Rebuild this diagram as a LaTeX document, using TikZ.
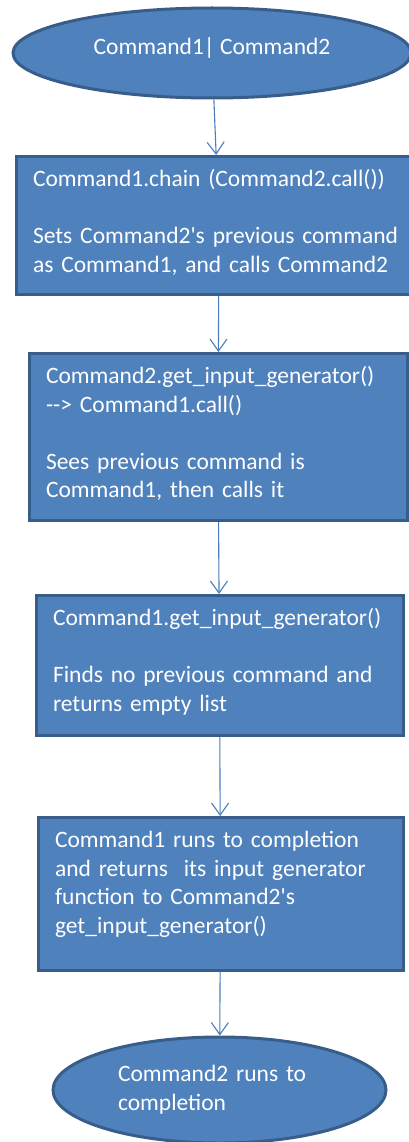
\documentclass[tikz,border=0pt]{standalone}
\usepackage{fontspec}
\setmainfont{Carlito}
\usetikzlibrary{shapes.geometric,arrows.meta}
\definecolor{boxfill}{HTML}{4F81BD}
\definecolor{boxline}{HTML}{385D8A}
\definecolor{flowline}{HTML}{4A7EBB}

\begin{document}
\begin{tikzpicture}[x=1pt,y=-1pt,>={Straight Barb[length=12pt,width=17pt]},
  every node/.style={text=white,font=\fontsize{23.5}{28.6}\selectfont},
  terminal/.style={ellipse,draw=boxline,fill=boxfill,line width=3pt,inner sep=0pt},
  stepbox/.style={rectangle,draw=boxline,fill=boxfill,line width=3pt,anchor=north,
    inner xsep=17pt,inner ysep=0pt,align=left,text height=30pt},
  flow/.style={->,flowline,line width=1.1pt}]
  \useasboundingbox (0,0) rectangle (409,1142);
  % Start and end
  \node[terminal,minimum width=398pt,minimum height=90pt,text height=16pt,text depth=12pt]
    (start) at (212,53) {Command1| Command2};
  \node[terminal,minimum width=333pt,minimum height=106pt,text width=203pt,align=left]
    (finish) at (219.5,1090) {Command2 runs to\\completion};
  % Steps
  \node[stepbox,text width=372pt,text depth=108pt] (chain) at (219,155)
    {Command1.chain (Command2.call())\\[28.6pt]
     Sets Command2\textquotesingle s previous command\\
     as Command1, and calls Command2};
  \node[stepbox,text width=344pt,text depth=137pt] (getgen2) at (218,352)
    {Command2.get\_input\_generator()\\
     {-}{-}> Command1.call()\\[28.6pt]
     Sees previous command is\\
     Command1, then calls it};
  \node[stepbox,text width=333pt,text depth=110pt] (getgen1) at (219.5,594)
    {Command1.get\_input\_generator()\\[28.6pt]
     Finds no previous command and\\
     returns empty list};
  \node[stepbox,text width=331pt,text depth=123pt] (runs1) at (220.5,816)
    {Command1 runs to completion\\
     and returns~ its input generator\\
     function to Command2\textquotesingle s\\
     get\_input\_generator()};
  % Connectors
  \draw[flow] (start) -- (chain);
  \draw[flow] (chain) -- (getgen2);
  \draw[flow] (getgen2) -- (getgen1);
  \draw[flow] (getgen1) -- (runs1);
  \draw[flow] (runs1) -- (finish);
\end{tikzpicture}
\end{document}
